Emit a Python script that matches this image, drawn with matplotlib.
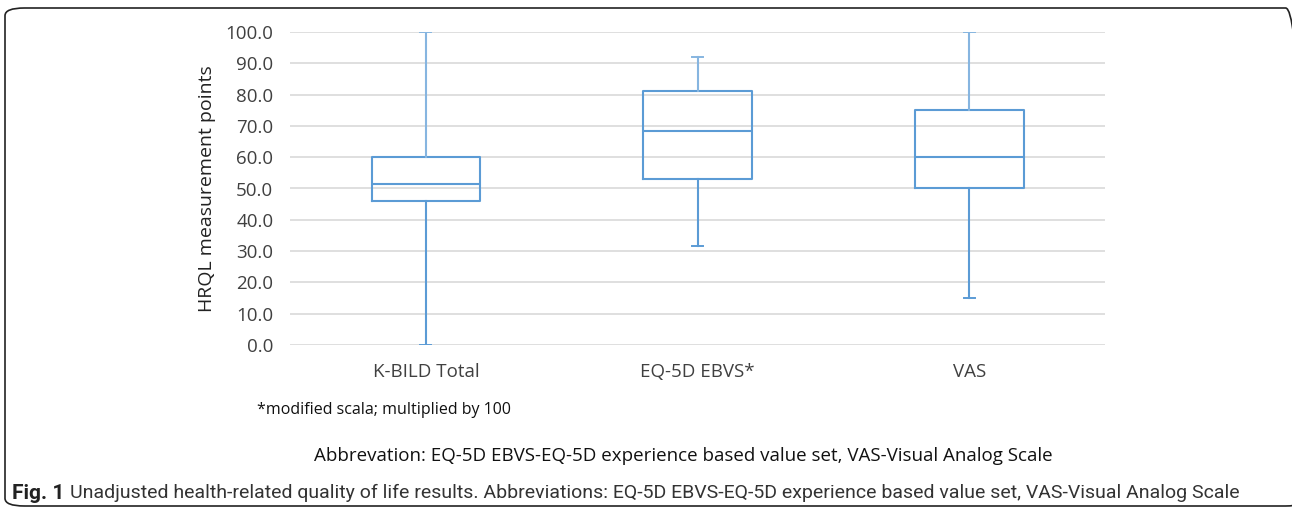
import matplotlib.pyplot as plt
from matplotlib.patches import FancyBboxPatch

# Box plot summary values
categories = ["K-BILD Total", "EQ-5D EBVS*", "VAS"]
whisker_low = [0.0, 31.7, 15.0]
q1 = [46.0, 52.9, 50.0]
median = [51.4, 68.5, 60.0]
q3 = [60.1, 81.0, 75.0]
whisker_high = [100.0, 91.9, 100.0]
yticks = [0, 10, 20, 30, 40, 50, 60, 70, 80, 90, 100]

box_col = "#5b9bd5"
light_col = "#86b5e0"

plt.rcParams["font.family"] = ["Open Sans", "DejaVu Sans"]

fig = plt.figure(figsize=(12.92, 5.11), dpi=100)
ax = fig.add_axes([290 / 1292, 1 - 345 / 511, 815 / 1292, 313 / 511])

stats = []
for i, lab in enumerate(categories):
    stats.append(dict(label=lab, whislo=whisker_low[i], q1=q1[i], med=median[i],
                      q3=q3[i], whishi=whisker_high[i], fliers=[]))

bp = ax.bxp(stats, positions=range(len(categories)), widths=0.4, showfliers=False,
            boxprops=dict(color=box_col, linewidth=1.5),
            medianprops=dict(color=box_col, linewidth=1.5),
            whiskerprops=dict(color=box_col, linewidth=1.5),
            capprops=dict(color=box_col, linewidth=1.4), capwidths=0.04)
# upper whiskers look a bit lighter in the original
for w in bp["whiskers"][1::2]:
    w.set_color(light_col)
for c in bp["caps"][1::2]:
    c.set_color(light_col)

ax.set_xlim(-0.5, 2.5)
ax.set_ylim(0, 100)
ax.set_yticks(yticks)
ax.set_yticklabels([f"{v:.1f}" for v in yticks], fontsize=13.5, color="#404040")
ax.set_xticks(range(len(categories)))
ax.set_xticklabels(categories, fontsize=13.5, color="#404040")
ax.tick_params(length=0, pad=12)
ax.tick_params(axis="x", pad=13)
ax.grid(axis="y", color="#d9d9d9", linewidth=1.2)
ax.set_axisbelow(True)
for s in ax.spines.values():
    s.set_visible(False)
ax.set_ylabel("HRQL measurement points", fontsize=14, color="#222222", labelpad=7)

fig.text(257 / 1292, 1 - 410 / 511, "*modified scala; multiplied by 100", fontsize=11.5,
         va="center", ha="left", color="#111111")
fig.text(683 / 1292, 1 - 456 / 511,
         "Abbrevation: EQ-5D EBVS-EQ-5D experience based value set, VAS-Visual Analog Scale",
         fontsize=13.5, va="center", ha="center", color="#111111")

t1 = fig.text(12 / 1292, 1 - 493 / 511, "Fig. 1", fontsize=15, fontweight="bold",
              family="Roboto", va="center", ha="left", color="#222222")
ax.annotate("Unadjusted health-related quality of life results. Abbreviations: EQ-5D EBVS-EQ-5D "
            "experience based value set, VAS-Visual Analog Scale",
            xy=(1, 0.5), xycoords=t1, xytext=(4, 0), textcoords="offset points",
            fontsize=14.0, family="Roboto", va="center", ha="left",
            color="#333333", annotation_clip=False)

frame = FancyBboxPatch((5 / 1292, 5 / 511), 1300 / 1292, 498 / 511,
                       boxstyle="round,pad=0,rounding_size=0.015",
                       transform=fig.transFigure, fill=False, edgecolor="#222222",
                       linewidth=1.2, clip_on=False)
fig.patches.append(frame)

fig.savefig("out.png", dpi=100)
